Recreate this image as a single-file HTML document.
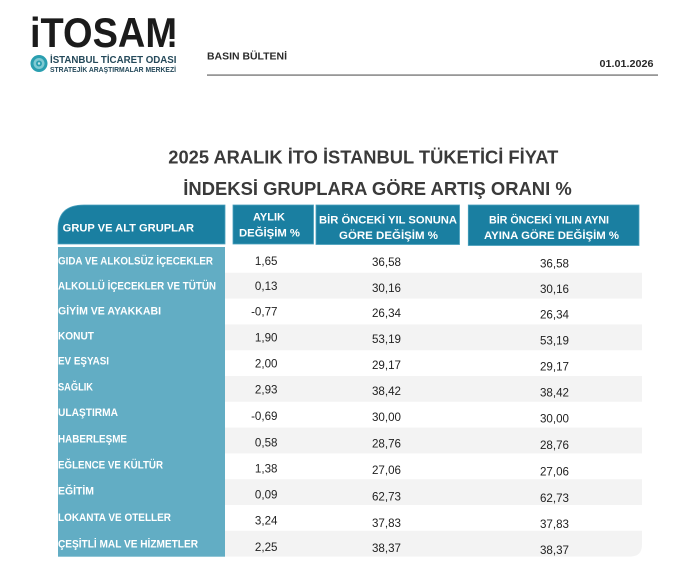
<!DOCTYPE html>
<html><head><meta charset="utf-8"><style>
html,body{margin:0;padding:0;background:#fff;}
svg{display:block;}
text{font-family:"Liberation Sans","DejaVu Sans",sans-serif;}
</style></head><body>
<svg width="686" height="581" viewBox="0 0 686 581" xmlns="http://www.w3.org/2000/svg">
<rect width="686" height="581" fill="#fff"/>
<!-- Logo -->
<text x="30" y="47" font-size="42" font-weight="bold" fill="#1b1b1b" textLength="147" lengthAdjust="spacingAndGlyphs">iTOSAM</text>
<rect x="169" y="39" width="10" height="2.5" fill="#fff"/>
<g>
<circle cx="39" cy="63.5" r="8.5" fill="#2a9fb0"/>
<circle cx="39" cy="63.5" r="5.5" fill="#7fcad3"/>
<circle cx="39" cy="63.5" r="3" fill="#2a9fb0"/>
<circle cx="39" cy="63.5" r="1.2" fill="#bfe6ea"/>
</g>
<text x="50" y="63" font-size="10.5" font-weight="bold" fill="#24495a" textLength="126.5" lengthAdjust="spacingAndGlyphs">İSTANBUL TİCARET ODASI</text>
<text x="50" y="72" font-size="7.6" font-weight="bold" fill="#24495a" textLength="126" lengthAdjust="spacingAndGlyphs">STRATEJİK ARAŞTIRMALAR MERKEZİ</text>
<!-- Header -->
<text x="207" y="59.5" font-size="10" font-weight="bold" fill="#2a2a2a" textLength="80" lengthAdjust="spacingAndGlyphs">BASIN BÜLTENİ</text>
<text x="599.5" y="67" font-size="10" font-weight="bold" fill="#2a2a2a" textLength="54" lengthAdjust="spacingAndGlyphs">01.01.2026</text>
<rect x="207" y="74.3" width="451" height="1.6" fill="#8c8c8c"/>
<!-- Title -->
<text x="168.3" y="163.3" font-size="18" font-weight="bold" fill="#3a3a3a" textLength="390" lengthAdjust="spacingAndGlyphs">2025 ARALIK İTO İSTANBUL TÜKETİCİ FİYAT</text>
<text x="183.3" y="195" font-size="18" font-weight="bold" fill="#3a3a3a" textLength="388.4" lengthAdjust="spacingAndGlyphs">İNDEKSİ GRUPLARA GÖRE ARTIŞ ORANI %</text>
<!-- Header cells -->
<path d="M58,244 L58,229 Q58,205 84,205 L225,205 L225,244 Z" fill="#1a7fa1" stroke="#4aa0bd" stroke-width="0.8"/>
<rect x="233" y="205" width="80.5" height="39" fill="#1a7fa1" stroke="#4aa0bd" stroke-width="0.8"/>
<rect x="316" y="205" width="143.5" height="39.5" fill="#1a7fa1" stroke="#4aa0bd" stroke-width="0.8"/>
<rect x="468.3" y="205" width="170.7" height="40.5" fill="#1a7fa1" stroke="#4aa0bd" stroke-width="0.8"/>
<g fill="#fff" font-weight="bold" font-size="10.6">
<text x="62.7" y="231.7" textLength="131.3" lengthAdjust="spacingAndGlyphs">GRUP VE ALT GRUPLAR</text>
<text x="253" y="220.7" textLength="32" lengthAdjust="spacingAndGlyphs">AYLIK</text>
<text x="239" y="236.7" textLength="61" lengthAdjust="spacingAndGlyphs">DEĞİŞİM %</text>
<text x="319" y="223.3" textLength="138" lengthAdjust="spacingAndGlyphs">BİR ÖNCEKİ YIL SONUNA</text>
<text x="339" y="239" textLength="99" lengthAdjust="spacingAndGlyphs">GÖRE DEĞİŞİM %</text>
<text x="489" y="223.3" textLength="120" lengthAdjust="spacingAndGlyphs">BİR ÖNCEKİ YILIN AYNI</text>
<text x="484" y="239" textLength="135" lengthAdjust="spacingAndGlyphs">AYINA GÖRE DEĞİŞİM %</text>
</g>
<!-- Stripes -->
<g fill="#f3f3f3">
<rect x="225" y="272.8" width="417" height="25.8"/>
<rect x="225" y="324.4" width="417" height="25.8"/>
<rect x="225" y="376" width="417" height="25.8"/>
<rect x="225" y="427.6" width="417" height="25.8"/>
<rect x="225" y="479.2" width="417" height="25.8"/>
<path d="M225,530.8 L642,530.8 L642,544.5 Q642,556.6 630,556.6 L225,556.6 Z"/>
</g>
<!-- Left column -->
<rect x="58" y="247" width="167" height="309.7" fill="#62adc4"/>
<g fill="#fff" font-weight="bold" font-size="11.2">
<text x="58" y="264.3" textLength="155" lengthAdjust="spacingAndGlyphs">GIDA VE ALKOLSÜZ İÇECEKLER</text>
<text x="58" y="289.3" textLength="158" lengthAdjust="spacingAndGlyphs">ALKOLLÜ İÇECEKLER VE TÜTÜN</text>
<text x="58" y="314.3" textLength="103" lengthAdjust="spacingAndGlyphs">GİYİM VE AYAKKABI</text>
<text x="58" y="339.5" textLength="36" lengthAdjust="spacingAndGlyphs">KONUT</text>
<text x="58" y="364.5" textLength="51" lengthAdjust="spacingAndGlyphs">EV EŞYASI</text>
<text x="58" y="390.3" textLength="35" lengthAdjust="spacingAndGlyphs">SAĞLIK</text>
<text x="58" y="416" textLength="60" lengthAdjust="spacingAndGlyphs">ULAŞTIRMA</text>
<text x="58" y="442.3" textLength="69" lengthAdjust="spacingAndGlyphs">HABERLEŞME</text>
<text x="58" y="468.3" textLength="105" lengthAdjust="spacingAndGlyphs">EĞLENCE VE KÜLTÜR</text>
<text x="58" y="494.3" textLength="36" lengthAdjust="spacingAndGlyphs">EĞİTİM</text>
<text x="58" y="521" textLength="113" lengthAdjust="spacingAndGlyphs">LOKANTA VE OTELLER</text>
<text x="58" y="547.3" textLength="140" lengthAdjust="spacingAndGlyphs">ÇEŞİTLİ MAL VE HİZMETLER</text>
</g>
<!-- Values col 2 -->
<g fill="#222" font-size="11.6" text-anchor="end">
<text x="277.5" y="265">1,65</text>
<text x="277.5" y="290">0,13</text>
<text x="277.5" y="315.5">-0,77</text>
<text x="277.5" y="341.5">1,90</text>
<text x="277.5" y="367.5">2,00</text>
<text x="277.5" y="393.5">2,93</text>
<text x="277.5" y="420">-0,69</text>
<text x="277.5" y="446.3">0,58</text>
<text x="277.5" y="472.5">1,38</text>
<text x="277.5" y="498.5">0,09</text>
<text x="277.5" y="524.7">3,24</text>
<text x="277.5" y="551">2,25</text>
</g>
<!-- Values col 3 -->
<g fill="#222" font-size="11.6" text-anchor="end">
<text x="401" y="266">36,58</text>
<text x="401" y="292">30,16</text>
<text x="401" y="317">26,34</text>
<text x="401" y="343">53,19</text>
<text x="401" y="369">29,17</text>
<text x="401" y="395">38,42</text>
<text x="401" y="421">30,00</text>
<text x="401" y="447.5">28,76</text>
<text x="401" y="474">27,06</text>
<text x="401" y="500.5">62,73</text>
<text x="401" y="527">37,83</text>
<text x="401" y="552">38,37</text>
</g>
<!-- Values col 4 -->
<g fill="#222" font-size="11.6" text-anchor="end">
<text x="569" y="267.5">36,58</text>
<text x="569" y="293">30,16</text>
<text x="569" y="318.5">26,34</text>
<text x="569" y="344.5">53,19</text>
<text x="569" y="370.5">29,17</text>
<text x="569" y="396.5">38,42</text>
<text x="569" y="422.5">30,00</text>
<text x="569" y="449">28,76</text>
<text x="569" y="475.5">27,06</text>
<text x="569" y="502">62,73</text>
<text x="569" y="528">37,83</text>
<text x="569" y="554">38,37</text>
</g>
</svg>
</body></html>
